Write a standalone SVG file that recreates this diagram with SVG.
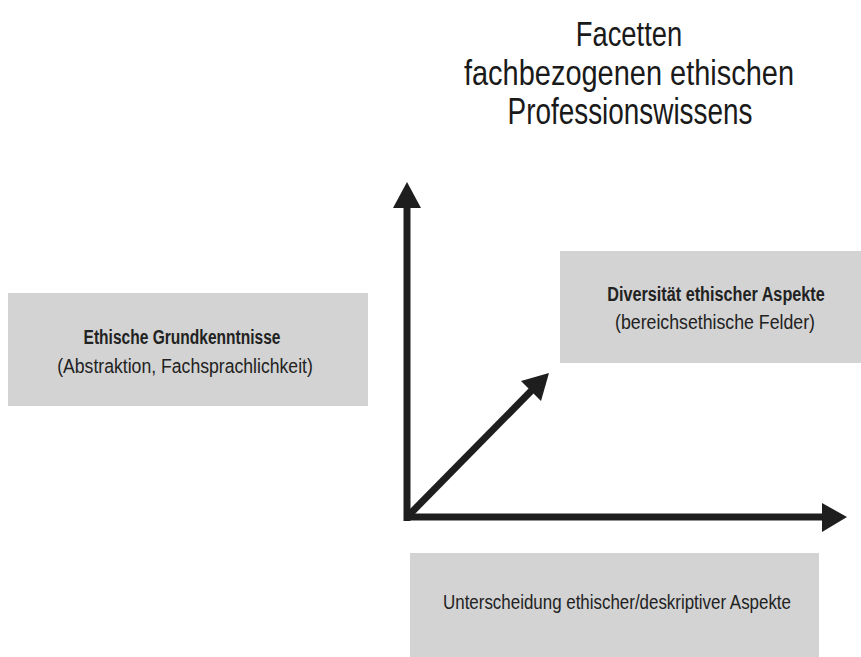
<svg xmlns="http://www.w3.org/2000/svg" width="861" height="657" viewBox="0 0 861 657">
<style>
.box{fill:#d3d3d3}
.t{font-family:"Liberation Sans","Noto Sans",sans-serif;fill:#222;text-anchor:middle}
.title{font-size:36px;fill:#1a1a1a}
.b{font-size:21px;font-weight:bold}
.r{font-size:21px}
.ax{stroke:#1e1e1e;stroke-width:7;fill:none}
.ah{fill:#1e1e1e}
</style>
<rect width="861" height="657" fill="#fff"/>
<g id="title">
<text class="t title" transform="translate(629,46) scale(0.76,1)">Facetten</text>
<text class="t title" transform="translate(629,85) scale(0.805,1)">fachbezogenen ethischen</text>
<text class="t title" transform="translate(630,124) scale(0.775,1)">Professionswissens</text>
</g>
<g id="connectors">
<line class="ax" x1="407" y1="521" x2="407" y2="200"/>
<polygon class="ah" points="407,182 393,208 421,208"/>
<line class="ax" x1="404" y1="517" x2="826" y2="517"/>
<polygon class="ah" points="847,517 822,503 822,532"/>
<line class="ax" x1="408" y1="516" x2="533" y2="389"/>
<polygon class="ah" points="549,373 521,381 541,401"/>
</g>
<g id="node-grundkenntnisse">
<rect class="box" x="8" y="293" width="360" height="113"/>
<text class="t b" transform="translate(182,344) scale(0.74,1)">Ethische Grundkenntnisse</text>
<text class="t r" transform="translate(185,373) scale(0.84,1)">(Abstraktion, Fachsprachlichkeit)</text>
</g>
<g id="node-diversitaet">
<rect class="box" x="560" y="251" width="301" height="112"/>
<text class="t b" transform="translate(716,301) scale(0.773,1)">Diversität ethischer Aspekte</text>
<text class="t r" transform="translate(715,329) scale(0.844,1)">(bereichsethische Felder)</text>
</g>
<g id="node-unterscheidung">
<rect class="box" x="410" y="553" width="409" height="104"/>
<text class="t r" transform="translate(617,609) scale(0.806,1)">Unterscheidung ethischer/deskriptiver Aspekte</text>
</g>
</svg>
